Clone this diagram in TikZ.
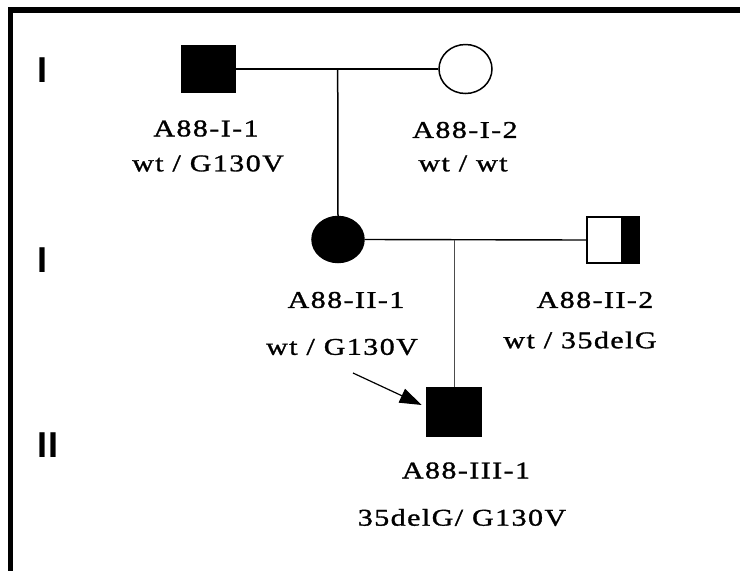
\documentclass[tikz,border=0pt]{standalone}
\usepackage{fontspec}
\setmainfont{Liberation Serif}
\newfontfamily\lblfont[FakeStretch=1.25,FakeBold=1.2,LetterSpace=6]{Liberation Serif}
\newfontfamily\genfont{Liberation Sans}
\usetikzlibrary{arrows.meta,shapes.geometric}
\begin{document}
\begin{tikzpicture}[x=1pt,y=-1pt,
  person/.style={draw=black,line width=1.5pt,inner sep=0pt},
  malebox/.style={person,rectangle},
  femalebox/.style={person,ellipse},
  lbl/.style={inner sep=0pt,font=\lblfont\fontsize{24}{28}\selectfont},
  gen/.style={inner sep=0pt,font=\genfont\bfseries\fontsize{36}{40}\selectfont},
  rel/.style={line width=1.4pt},
  desc/.style={line width=1.5pt},
  desc2/.style={line width=1pt,draw=black!70}
]
\useasboundingbox (0,0) rectangle (740,571);
% frame
\draw[line width=6pt] (8,10) -- (740,10);
\draw[line width=5pt] (10.5,7) -- (10.5,571);

% generation labels
\node[gen] (g1) at (43,70) {I};
\node[gen] (g2) at (43,260) {I};
\node[gen] (g3) at (48,445) {II};

% generation I
\node[malebox,fill=black,minimum width=53pt,minimum height=47pt] (i1) at (208.5,69) {};
\node[femalebox,fill=white,minimum width=53pt,minimum height=49pt] (i2) at (465.5,69) {};
\draw[rel] (i1.east) -- (i2.west);
\coordinate (m1) at (337.7,69);

% generation II
\node[femalebox,fill=black,minimum width=52pt,minimum height=46pt] (ii1) at (338,239.5) {};
\node[malebox,fill=white,minimum width=52pt,minimum height=46pt,
  path picture={\fill[black] ([xshift=-18pt]path picture bounding box.north east) rectangle (path picture bounding box.south east);}] (ii2) at (613,240) {};
\draw[desc] (m1) -- (ii1.north);
\draw[rel] (ii1.east) -- (ii2.west);
\coordinate (m2) at (454,239.5);

% generation III
\node[malebox,fill=black,minimum width=55pt,minimum height=49pt] (iii1) at (454,412) {};
\draw[desc2] (m2) -- (iii1.north);
\coordinate (arrtail) at (353,373);
\draw[line width=1.2pt,-{Triangle[length=22pt,width=15pt]}] (arrtail) -- ([shift={(-4pt,7pt)}]iii1.west);

% labels
\node[lbl] (l11) at (206,128.5) {A88-I-1};
\node[lbl] (g11) at (208,163.5) {wt / G130V};
\node[lbl] (l12) at (465,130) {A88-I-2};
\node[lbl] (g12) at (463,163.5) {wt / wt};
\node[lbl] (l21) at (346,300) {A88-II-1};
\node[lbl] (g21) at (342,347) {wt / G130V};
\node[lbl] (l22) at (595,300) {A88-II-2};
\node[lbl] (g22) at (580,340) {wt / 35delG};
\node[lbl] (l31) at (466,470.5) {A88-III-1};
\node[lbl] (g31) at (462,517.5) {35delG/ G130V};
\end{tikzpicture}
\end{document}
